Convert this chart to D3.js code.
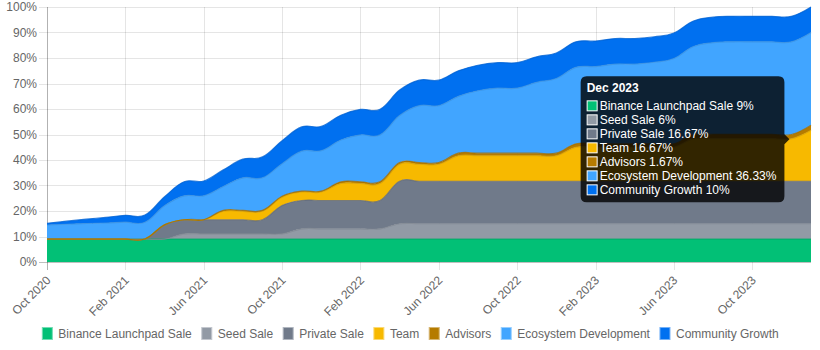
<!DOCTYPE html>
<html>
<head>
<meta charset="utf-8">
<script src="https://cdn.jsdelivr.net/npm/d3@7/dist/d3.min.js"></script>
<style>
  body { margin: 0; background: #fff; }
  svg { display: block; font-family: "Liberation Sans", Arial, Helvetica, sans-serif; }
</style>
</head>
<body>
<svg id="chart" width="820" height="350"></svg>
<script>
// monthly unlock schedule, cumulative % of supply per allocation
var months = ["Oct 2020", "Nov 2020", "Dec 2020", "Jan 2021", "Feb 2021", "Mar 2021", "Apr 2021", "May 2021",
    "Jun 2021", "Jul 2021", "Aug 2021", "Sep 2021", "Oct 2021", "Nov 2021", "Dec 2021", "Jan 2022",
    "Feb 2022", "Mar 2022", "Apr 2022", "May 2022", "Jun 2022", "Jul 2022", "Aug 2022", "Sep 2022",
    "Oct 2022", "Nov 2022", "Dec 2022", "Jan 2023", "Feb 2023", "Mar 2023", "Apr 2023", "May 2023",
    "Jun 2023", "Jul 2023", "Aug 2023", "Sep 2023", "Oct 2023", "Nov 2023", "Dec 2023", "Jan 2024"];

var launchpadSale = [9, 9, 9, 9, 9, 9, 9, 9, 9, 9, 9, 9, 9, 9, 9, 9, 9, 9, 9, 9,
    9, 9, 9, 9, 9, 9, 9, 9, 9, 9, 9, 9, 9, 9, 9, 9, 9, 9, 9, 9];
var seedSale = [0, 0, 0, 0, 0, 0, 0, 2, 2, 2, 2, 2, 2, 4, 4, 4, 4, 4, 6, 6,
    6, 6, 6, 6, 6, 6, 6, 6, 6, 6, 6, 6, 6, 6, 6, 6, 6, 6, 6, 6];
var privateSale = [0, 0, 0, 0, 0, 0, 5.56, 5.56, 5.56, 5.56, 5.56, 5.56, 11.11, 11.11, 11.11, 11.11, 11.11, 11.11, 16.67, 16.67,
    16.67, 16.67, 16.67, 16.67, 16.67, 16.67, 16.67, 16.67, 16.67, 16.67, 16.67, 16.67, 16.67, 16.67, 16.67, 16.67, 16.67, 16.67, 16.67, 16.67];
var team = [0, 0, 0, 0, 0, 0, 0, 0, 0, 3.33, 3.33, 3.33, 3.33, 3.33, 3.33, 6.67, 6.67, 6.67, 6.67, 6.67,
    6.67, 10, 10, 10, 10, 10, 10, 13.33, 13.33, 13.33, 13.33, 13.33, 13.33, 16.67, 16.67, 16.67, 16.67, 16.67, 16.67, 20];
var advisors = [0, 0, 0, 0, 0, 0, 0, 0, 0, 0.33, 0.33, 0.33, 0.33, 0.33, 0.33, 0.67, 0.67, 0.67, 0.67, 0.67,
    0.67, 1, 1, 1, 1, 1, 1, 1.33, 1.33, 1.33, 1.33, 1.33, 1.33, 1.67, 1.67, 1.67, 1.67, 1.67, 1.67, 2];
var ecosystem = [5.5, 5.8, 6.1, 6.3, 6.6, 6.6, 7.5, 9.4, 9.4, 9.4, 12.8, 12.8, 12.8, 15.7, 15.9, 16.4, 18.4, 18.4, 18.4, 22.3,
    22.3, 22.3, 24.5, 25.5, 25.5, 27.8, 29.3, 30, 30.3, 31.3, 31.3, 32, 33.5, 34.5, 36, 36.33, 36.33, 36.33, 36.33, 36.33];
var community = [0.7, 1.2, 1.7, 2.2, 2.7, 2.8, 3.5, 5.5, 5.8, 6.5, 7.3, 8.2, 9, 9.5, 9.5, 9.7, 10, 10, 10, 10,
    10, 10, 10, 10, 10, 10, 10, 10, 10, 10, 10, 10, 10, 10, 10, 10, 10, 10, 10, 10];

var seriesNames = ["Binance Launchpad Sale", "Seed Sale", "Private Sale", "Team", "Advisors", "Ecosystem Development", "Community Growth"];
var seriesValues = [launchpadSale, seedSale, privateSale, team, advisors, ecosystem, community];
var seriesColors = ["#02c076", "#929aa5", "#707a8a", "#f7b900", "#b57b00", "#41a5ff", "#0070f0"];
var yTicks = [0, 10, 20, 30, 40, 50, 60, 70, 80, 90, 100];
var xTickLabels = ["Oct 2020", "Feb 2021", "Jun 2021", "Oct 2021", "Feb 2022", "Jun 2022", "Oct 2022", "Feb 2023", "Jun 2023", "Oct 2023"];
var hoverMonth = "Dec 2023";

var svg = d3.select('#chart');
var plotLeft = 47, plotRight = 811, plotTop = 7, plotBottom = 262;

var x = d3.scalePoint().domain(months).range([plotLeft, plotRight]);
var y = d3.scaleLinear().domain([0, 100]).range([plotBottom, plotTop]);

// rows for the stack
var rows = months.map(function (m, i) {
    var r = { month: m };
    seriesNames.forEach(function (name, k) { r[name] = seriesValues[k][i]; });
    return r;
});
var stacked = d3.stack().keys(seriesNames)(rows);

// grid
var grid = svg.append('g');
grid.selectAll('.hgrid')
    .data(yTicks)
    .enter().append('line')
    .attr('x1', plotLeft - 8).attr('x2', plotRight)
    .attr('y1', function (d) { return Math.round(y(d)) + 0.5; }).attr('y2', function (d) { return Math.round(y(d)) + 0.5; })
    .style('stroke', function (d) { return d === 0 ? 'rgba(0,0,0,0.25)' : 'rgba(0,0,0,0.1)'; });
grid.selectAll('.vgrid')
    .data(xTickLabels)
    .enter().append('line')
    .attr('x1', function (d) { return Math.round(x(d)) + 0.5; }).attr('x2', function (d) { return Math.round(x(d)) + 0.5; })
    .attr('y1', plotTop).attr('y2', plotBottom + 8)
    .style('stroke', function (d, i) { return i === 0 ? 'rgba(0,0,0,0.3)' : 'rgba(0,0,0,0.1)'; });

// areas
var curve = d3.curveCardinal.tension(-0.2);
var area = d3.area()
    .x(function (d) { return x(d.data.month); })
    .y0(function (d) { return y(d[0]); })
    .y1(function (d) { return y(d[1]); })
    .curve(curve);
var topLine = d3.line()
    .x(function (d) { return x(d.data.month); })
    .y(function (d) { return y(d[1]); })
    .curve(curve);

svg.append('g').selectAll('path')
    .data(stacked)
    .enter().append('path')
    .attr('d', area)
    .style('fill', function (d, i) { return seriesColors[i]; });

svg.append('g').selectAll('path')
    .data(stacked)
    .enter().append('path')
    .attr('d', topLine)
    .style('fill', 'none')
    .style('stroke', function (d, i) { return d3.color(seriesColors[i]).darker(0.35); })
    .style('stroke-width', 1.2)
    .style('stroke-opacity', 0.8);

// y axis
var yAxis = svg.append('g')
    .attr('transform', 'translate(' + plotLeft + ',0)')
    .call(d3.axisLeft(y).tickValues(yTicks).tickSize(0).tickPadding(10).tickFormat(function (d) { return d + '%'; }));
yAxis.select('.domain').remove();
yAxis.selectAll('text').style('fill', '#666').style('font-size', '12px').style('font-family', null);

// x axis labels, rotated like the original
var xAxis = svg.append('g')
    .attr('transform', 'translate(0,' + plotBottom + ')')
    .call(d3.axisBottom(x).tickValues(xTickLabels).tickSize(0));
xAxis.select('.domain').remove();
xAxis.selectAll('text')
    .attr('x', 0).attr('y', 0).attr('dy', '0.35em')
    .attr('transform', 'translate(1,16) rotate(-45)')
    .style('text-anchor', 'end')
    .style('fill', '#666').style('font-size', '12px').style('font-family', null);

// legend
var legend = svg.append('g').attr('transform', 'translate(0,327)');
var items = legend.selectAll('g')
    .data(seriesNames)
    .enter().append('g');
items.append('rect')
    .attr('width', 10).attr('height', 12)
    .style('fill', function (d, i) { return seriesColors[i]; })
    .style('stroke', function (d, i) { return d3.interpolateRgb(seriesColors[i], '#fff')(0.45); })
    .style('stroke-width', 1);
items.append('text')
    .attr('x', 16).attr('y', 6).attr('dy', '0.35em')
    .style('fill', '#666').style('font-size', '12px')
    .text(function (d) { return d; });
var widths = [];
items.each(function () { widths.push(16 + d3.select(this).select('text').node().getComputedTextLength()); });
var total = d3.sum(widths) + 10 * (widths.length - 1);
var cursor = 410 - total / 2;
items.attr('transform', function (d, i) {
    var t = 'translate(' + (cursor + 0.5) + ',0.5)';
    cursor += widths[i] + 10;
    return t;
});

// tooltip for the hovered month
var hi = months.indexOf(hoverMonth);
var caretX = x(hoverMonth);
var caretY = d3.mean(stacked, function (s) { return y(s[hi][1]); });
var tip = svg.append('g');
var tipBg = tip.append('path');
var tipText = tip.append('g');
tipText.append('text')
    .attr('x', 6).attr('y', 16)
    .style('fill', '#fff').style('font-size', '12px').style('font-weight', 'bold')
    .text(hoverMonth);
var lines = tipText.selectAll('.tip-line')
    .data(seriesNames)
    .enter().append('g')
    .attr('transform', function (d, i) { return 'translate(6,' + (24 + i * 14) + ')'; });
lines.append('rect')
    .attr('x', 0.5).attr('y', 0.5).attr('width', 10).attr('height', 10)
    .style('fill', function (d, i) { return seriesColors[i]; })
    .style('stroke', '#fff').style('stroke-width', 1);
lines.append('text')
    .attr('x', 13).attr('y', 10)
    .style('fill', '#fff').style('font-size', '12px')
    .text(function (d, i) { return d + ' ' + seriesValues[i][hi] + '%'; });
var textW = 0;
lines.each(function () {
    var t = d3.select(this).select('text').node();
    textW = Math.max(textW, 6 + 13 + t.getComputedTextLength());
});
var tipW = textW + 8, tipH = 24 + 7 * 14 + 4;
var bx = caretX - 7 - tipW, by = caretY - tipH / 2;
tip.attr('transform', 'translate(' + bx + ',' + by + ')');
var r = 6, w = tipW, h = tipH, cy = tipH / 2;
tipBg.attr('d',
    'M' + r + ',0H' + (w - r) + 'Q' + w + ',0 ' + w + ',' + r +
    'V' + (cy - 5) + 'L' + (w + 5) + ',' + cy + 'L' + w + ',' + (cy + 5) +
    'V' + (h - r) + 'Q' + w + ',' + h + ' ' + (w - r) + ',' + h +
    'H' + r + 'Q0,' + h + ' 0,' + (h - r) + 'V' + r + 'Q0,0 ' + r + ',0Z')
    .style('fill', 'rgba(0,0,0,0.8)');
</script>
</body>
</html>
